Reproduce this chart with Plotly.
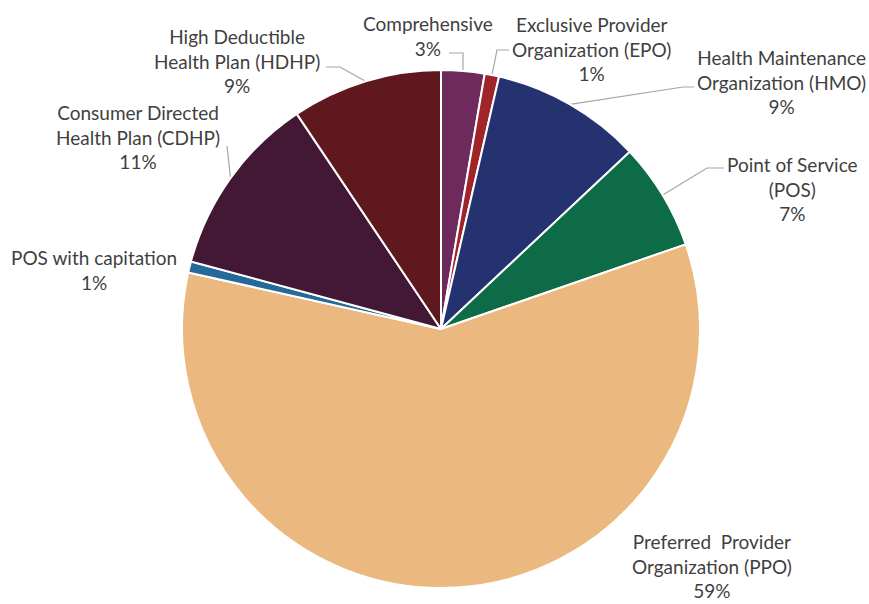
import math
import plotly.graph_objects as go

# Plan type shares (percent of enrollment), clockwise from 12 o'clock
plans = [
    "Comprehensive",
    "Exclusive Provider Organization (EPO)",
    "Health Maintenance Organization (HMO)",
    "Point of Service (POS)",
    "Preferred Provider Organization (PPO)",
    "POS with capitation",
    "Consumer Directed Health Plan (CDHP)",
    "High Deductible Health Plan (HDHP)",
]
shares = [2.7, 0.9, 9.4, 6.7, 58.8, 0.7, 11.4, 9.4]
label_lines = [
    ["Comprehensive"],
    ["Exclusive Provider", "Organization (EPO)"],
    ["Health Maintenance", "Organization (HMO)"],
    ["Point of Service", "(POS)"],
    ["Preferred  Provider", "Organization (PPO)"],
    ["POS with capitation"],
    ["Consumer Directed", "Health Plan (CDHP)"],
    ["High Deductible", "Health Plan (HDHP)"],
]
colors = ["#6E2A5C", "#A0252A", "#253270", "#0E6B48",
          "#EBB97F", "#236A9A", "#421834", "#5E181E"]

W, H = 869, 604
CX, CY, R = 441, 329, 259
FONT = "Lato"
TEXT_COLOR = "#3F3F3F"
LINE_COLOR = "#A6A6A6"

# label block centre (px) and leader path from the label toward the slice
label_pos = [
    dict(x=428, y=36, path=[(449, 53), (463, None)]),
    dict(x=591, y=49, path=[(509, 50), (497, None)]),
    dict(x=781, y=82, path=[(694, 87), (683, None)]),
    dict(x=792, y=189, path=[(724, 168), (707, None)]),
    dict(x=712, y=566, path=None),
    dict(x=94, y=270, path=None),
    dict(x=138, y=137, path=[(227, 146)]),
    dict(x=237, y=61, path=[(326, 67), (340, None)]),
]

fig = go.Figure()
fig.add_trace(go.Pie(
    labels=plans,
    values=shares,
    sort=False,
    direction="clockwise",
    rotation=0,
    marker=dict(colors=colors, line=dict(color="white", width=2)),
    textinfo="none",
    hoverinfo="label+percent",
    showlegend=False,
    domain=dict(x=[(CX - R) / W, (CX + R) / W],
                y=[1 - (CY + R) / H, 1 - (CY - R) / H]),
))

total = sum(shares)
cum = 0.0
annotations = []
for i, v in enumerate(shares):
    mid = (cum + v / 2) / total * 2 * math.pi
    cum += v
    sx = CX + R * math.sin(mid)
    sy = CY - R * math.cos(mid)
    pct = round(v / total * 100)
    text = "<br>".join(label_lines[i] + [f"{pct}%"])
    lp = label_pos[i]
    annotations.append(dict(
        x=lp["x"], y=lp["y"], xref="x", yref="y",
        text=text, showarrow=False, align="center",
        xanchor="center", yanchor="middle",
        font=dict(family=FONT, size=19, color=TEXT_COLOR),
    ))
    if lp["path"]:
        xs, ys = [], []
        for px, py in lp["path"]:
            xs.append(px)
            ys.append(py if py is not None else lp["path"][0][1])
        xs.append(sx)
        ys.append(sy)
        fig.add_trace(go.Scatter(
            x=xs, y=ys, mode="lines",
            line=dict(color=LINE_COLOR, width=1.2),
            hoverinfo="skip", showlegend=False,
        ))

fig.update_layout(
    width=W, height=H,
    margin=dict(l=0, r=0, t=0, b=0),
    paper_bgcolor="white",
    plot_bgcolor="rgba(0,0,0,0)",
    xaxis=dict(range=[0, W], visible=False, fixedrange=True, domain=[0, 1]),
    yaxis=dict(range=[H, 0], visible=False, fixedrange=True, domain=[0, 1]),
    annotations=annotations,
    font=dict(family=FONT),
)

fig.write_html("out.html")
